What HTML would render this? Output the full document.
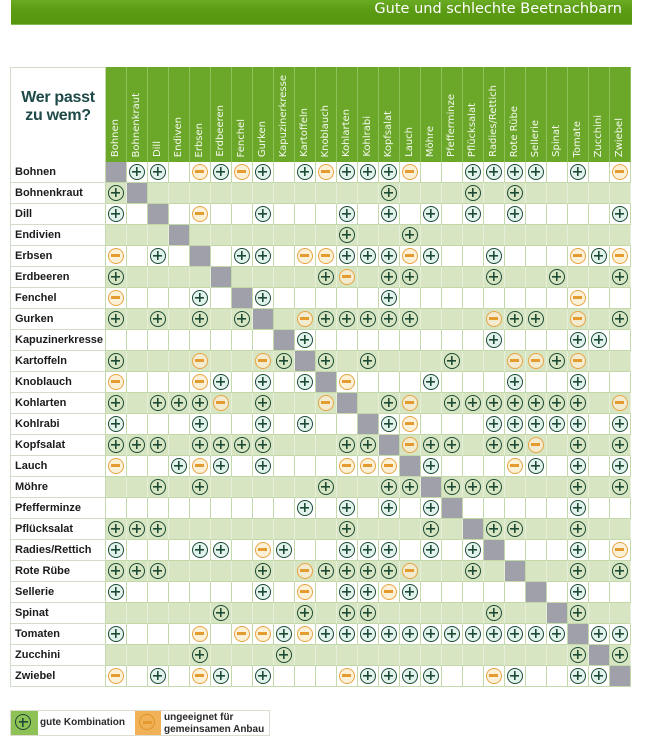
<!DOCTYPE html>
<html><head><meta charset="utf-8">
<style>
html,body{margin:0;padding:0}
body{width:645px;height:742px;background:#fff;position:relative;overflow:hidden;font-family:"Liberation Sans",sans-serif}
.bar{position:absolute;left:11px;top:0;width:621px;height:24px;background:linear-gradient(#6aab24,#5b9b14 45%,#56960f);border-bottom:1px solid #86bb55}
.bar span{position:absolute;right:10px;top:1px;font:14.5px/17px "DejaVu Sans",sans-serif;color:#fff;white-space:nowrap}
.h{position:absolute;left:10px;top:67px;height:95px;display:flex}
.h .w{width:96px;height:95px;box-sizing:border-box;border:1px solid #d3dcc8;border-right:1px solid #c4d9aa;border-bottom:0;text-align:center;padding-top:21px;font:bold 16px/17.5px "Liberation Sans",sans-serif;color:#1d4a48;letter-spacing:-0.3px}
.h .c{width:21px;height:95px;box-sizing:border-box;border-right:1px solid #8fc25a;background:#6ba729;position:relative;flex:none}
.h .c span{position:absolute;left:4px;bottom:5px;writing-mode:vertical-rl;transform:rotate(180deg);font:10px/12px "DejaVu Sans",sans-serif;color:#f6faf0;white-space:nowrap}
.rows{position:absolute;left:10px;top:162px}
.r{display:flex;height:21px}
.r span{display:block;flex:none;width:96px;height:21px;box-sizing:border-box;border-left:1px solid #d3dcc8;border-bottom:1px solid #d3dcc8;border-right:1px solid #c4d9aa;padding-left:4px;font:bold 11px/20px "Liberation Sans",sans-serif;color:#1b1b1b;white-space:nowrap;background:#fff}
.r i,.r b,.r s,.r u{display:block;flex:none;width:21px;height:21px;box-sizing:border-box;border-right:1px solid #c4d9aa;border-bottom:1px solid #c4d9aa;position:relative;text-decoration:none}
.g i,.g b,.g s{background:#d7e5c3;border-right-color:#e6efda}
.r u{background:#9fa0a9}
.r b::after,.r s::after,.lg b,.lg s{content:"";position:absolute;left:1.5px;top:1.5px;width:14px;height:14px;border-radius:50%}
.r b::after,.lg b{border:1.5px solid #1c4a35;background:linear-gradient(#1c4a35,#1c4a35) 50% 50%/9px 1.6px no-repeat,linear-gradient(#1c4a35,#1c4a35) 50% 50%/1.6px 9px no-repeat;background-color:#e2f2ed}
.g b::after{background-color:transparent}
.r s::after,.lg s{border:1.5px solid #e8a443;background:linear-gradient(#e49b30,#e49b30) 50% 50%/9px 3px no-repeat;background-color:#fcf1d6}
.g s::after{background-color:#f2ebcf}
.lg{position:absolute;left:10px;top:710px;width:260px;height:26px;box-sizing:border-box;border:1px solid #dcdcd0;background:#fff}
.lg .gs{position:absolute;left:0;top:0;width:27px;height:24px;background:#8fc256}
.lg .os{position:absolute;left:124px;top:0;width:26px;height:24px;background:#f1b257}
.lg b{left:4px;top:3px}
.lg b{background-color:transparent}
.lg s{left:4px;top:3px;border-color:#df9428;background-color:#f1b257}
.lg .t1{position:absolute;left:29px;top:6px;font:bold 10px/12px "Liberation Sans",sans-serif;color:#2a2a2a;white-space:nowrap}
.lg .t2{position:absolute;left:153px;top:1px;font:bold 10px/11.5px "Liberation Sans",sans-serif;color:#2a2a2a;white-space:nowrap}
</style></head><body>
<div class="bar"><span>Gute und schlechte Beetnachbarn</span></div>

<div class="h">
<div class="w">Wer passt<br>zu wem?</div>
<div class="c"><span>Bohnen</span></div>
<div class="c"><span>Bohnenkraut</span></div>
<div class="c"><span>Dill</span></div>
<div class="c"><span>Endiven</span></div>
<div class="c"><span>Erbsen</span></div>
<div class="c"><span>Erdbeeren</span></div>
<div class="c"><span>Fenchel</span></div>
<div class="c"><span>Gurken</span></div>
<div class="c"><span>Kapuzinerkresse</span></div>
<div class="c"><span>Kartoffeln</span></div>
<div class="c"><span>Knoblauch</span></div>
<div class="c"><span>Kohlarten</span></div>
<div class="c"><span>Kohlrabi</span></div>
<div class="c"><span>Kopfsalat</span></div>
<div class="c"><span>Lauch</span></div>
<div class="c"><span>Möhre</span></div>
<div class="c"><span>Pfefferminze</span></div>
<div class="c"><span>Pflücksalat</span></div>
<div class="c"><span>Radies/Rettich</span></div>
<div class="c"><span>Rote Rübe</span></div>
<div class="c"><span>Sellerie</span></div>
<div class="c"><span>Spinat</span></div>
<div class="c"><span>Tomate</span></div>
<div class="c"><span>Zucchini</span></div>
<div class="c"><span>Zwiebel</span></div>
</div>

<div class="rows">
<div class="r"><span>Bohnen</span><u></u><b></b><b></b><i></i><s></s><b></b><s></s><b></b><i></i><b></b><s></s><b></b><b></b><b></b><s></s><i></i><i></i><b></b><b></b><b></b><b></b><i></i><b></b><i></i><s></s></div>
<div class="r g"><span>Bohnenkraut</span><b></b><u></u><i></i><i></i><i></i><i></i><i></i><i></i><i></i><i></i><i></i><i></i><i></i><b></b><i></i><i></i><i></i><b></b><i></i><b></b><i></i><i></i><i></i><i></i><i></i></div>
<div class="r"><span>Dill</span><b></b><i></i><u></u><i></i><s></s><i></i><i></i><b></b><i></i><i></i><i></i><b></b><i></i><b></b><i></i><b></b><i></i><b></b><i></i><b></b><i></i><i></i><i></i><i></i><b></b></div>
<div class="r g"><span>Endivien</span><i></i><i></i><i></i><u></u><i></i><i></i><i></i><i></i><i></i><i></i><i></i><b></b><i></i><i></i><b></b><i></i><i></i><i></i><i></i><i></i><i></i><i></i><i></i><i></i><i></i></div>
<div class="r"><span>Erbsen</span><s></s><i></i><b></b><i></i><u></u><i></i><b></b><b></b><i></i><s></s><s></s><b></b><b></b><b></b><s></s><b></b><i></i><i></i><b></b><i></i><i></i><i></i><s></s><b></b><s></s></div>
<div class="r g"><span>Erdbeeren</span><b></b><i></i><i></i><i></i><i></i><u></u><i></i><i></i><i></i><i></i><b></b><s></s><i></i><b></b><b></b><i></i><i></i><i></i><b></b><i></i><i></i><b></b><i></i><i></i><b></b></div>
<div class="r"><span>Fenchel</span><s></s><i></i><i></i><i></i><b></b><i></i><u></u><b></b><i></i><i></i><i></i><i></i><i></i><b></b><i></i><i></i><i></i><i></i><i></i><i></i><i></i><i></i><s></s><i></i><i></i></div>
<div class="r g"><span>Gurken</span><b></b><i></i><b></b><i></i><b></b><i></i><b></b><u></u><i></i><s></s><b></b><b></b><b></b><b></b><b></b><i></i><i></i><i></i><s></s><b></b><b></b><i></i><s></s><i></i><b></b></div>
<div class="r"><span>Kapuzinerkresse</span><i></i><i></i><i></i><i></i><i></i><i></i><i></i><i></i><u></u><b></b><i></i><i></i><i></i><i></i><i></i><i></i><i></i><i></i><b></b><i></i><i></i><i></i><b></b><b></b><i></i></div>
<div class="r g"><span>Kartoffeln</span><b></b><i></i><i></i><i></i><s></s><i></i><i></i><s></s><b></b><u></u><b></b><i></i><b></b><i></i><i></i><i></i><b></b><i></i><i></i><s></s><s></s><b></b><s></s><i></i><i></i></div>
<div class="r"><span>Knoblauch</span><s></s><i></i><i></i><i></i><s></s><b></b><i></i><b></b><i></i><b></b><u></u><s></s><i></i><i></i><i></i><b></b><i></i><i></i><i></i><b></b><i></i><i></i><b></b><i></i><i></i></div>
<div class="r g"><span>Kohlarten</span><b></b><i></i><b></b><b></b><b></b><s></s><i></i><b></b><i></i><i></i><s></s><u></u><i></i><b></b><s></s><i></i><b></b><b></b><b></b><b></b><b></b><b></b><b></b><i></i><s></s></div>
<div class="r"><span>Kohlrabi</span><b></b><i></i><i></i><i></i><b></b><i></i><i></i><b></b><i></i><b></b><i></i><i></i><u></u><b></b><s></s><i></i><i></i><i></i><b></b><b></b><b></b><b></b><b></b><i></i><b></b></div>
<div class="r g"><span>Kopfsalat</span><b></b><b></b><b></b><i></i><b></b><b></b><b></b><b></b><i></i><i></i><i></i><b></b><b></b><u></u><s></s><b></b><b></b><i></i><b></b><b></b><s></s><i></i><b></b><i></i><b></b></div>
<div class="r"><span>Lauch</span><s></s><i></i><i></i><b></b><s></s><b></b><i></i><b></b><i></i><i></i><i></i><s></s><s></s><s></s><u></u><b></b><i></i><i></i><i></i><s></s><b></b><i></i><b></b><i></i><b></b></div>
<div class="r g"><span>Möhre</span><i></i><i></i><b></b><i></i><b></b><i></i><i></i><i></i><i></i><i></i><b></b><i></i><i></i><b></b><b></b><u></u><b></b><b></b><b></b><i></i><i></i><i></i><b></b><i></i><b></b></div>
<div class="r"><span>Pfefferminze</span><i></i><i></i><i></i><i></i><i></i><i></i><i></i><i></i><i></i><b></b><i></i><b></b><i></i><b></b><i></i><b></b><u></u><i></i><i></i><i></i><i></i><i></i><b></b><i></i><i></i></div>
<div class="r g"><span>Pflücksalat</span><b></b><b></b><b></b><i></i><i></i><i></i><i></i><i></i><i></i><i></i><i></i><b></b><i></i><i></i><i></i><b></b><i></i><u></u><b></b><b></b><i></i><i></i><b></b><i></i><i></i></div>
<div class="r"><span>Radies/Rettich</span><b></b><i></i><i></i><i></i><b></b><b></b><i></i><s></s><b></b><i></i><i></i><b></b><b></b><b></b><i></i><b></b><i></i><b></b><u></u><i></i><i></i><i></i><b></b><i></i><s></s></div>
<div class="r g"><span>Rote Rübe</span><b></b><b></b><b></b><i></i><i></i><i></i><i></i><b></b><i></i><s></s><b></b><b></b><b></b><b></b><s></s><i></i><i></i><b></b><i></i><u></u><i></i><i></i><b></b><i></i><b></b></div>
<div class="r"><span>Sellerie</span><b></b><i></i><i></i><i></i><i></i><i></i><i></i><b></b><i></i><s></s><i></i><b></b><b></b><s></s><b></b><i></i><i></i><i></i><i></i><i></i><u></u><i></i><b></b><i></i><i></i></div>
<div class="r g"><span>Spinat</span><i></i><i></i><i></i><i></i><i></i><b></b><i></i><i></i><i></i><b></b><i></i><b></b><b></b><i></i><i></i><i></i><i></i><i></i><b></b><i></i><i></i><u></u><b></b><i></i><i></i></div>
<div class="r"><span>Tomaten</span><b></b><i></i><i></i><i></i><s></s><i></i><s></s><s></s><b></b><s></s><b></b><b></b><b></b><b></b><b></b><b></b><b></b><b></b><b></b><b></b><b></b><b></b><u></u><b></b><b></b></div>
<div class="r g"><span>Zucchini</span><i></i><i></i><i></i><i></i><b></b><i></i><i></i><i></i><b></b><i></i><i></i><i></i><i></i><i></i><i></i><i></i><i></i><i></i><i></i><i></i><i></i><i></i><b></b><u></u><b></b></div>
<div class="r"><span>Zwiebel</span><s></s><i></i><b></b><i></i><s></s><b></b><i></i><b></b><i></i><i></i><i></i><s></s><b></b><b></b><b></b><b></b><i></i><i></i><s></s><b></b><i></i><i></i><b></b><b></b><u></u></div>
</div>

<div class="lg">
<div class="gs"><b></b></div>
<div class="t1">gute Kombination</div>
<div class="os"><s></s></div>
<div class="t2">ungeeignet für<br>gemeinsamen Anbau</div>
</div>
</body></html>
